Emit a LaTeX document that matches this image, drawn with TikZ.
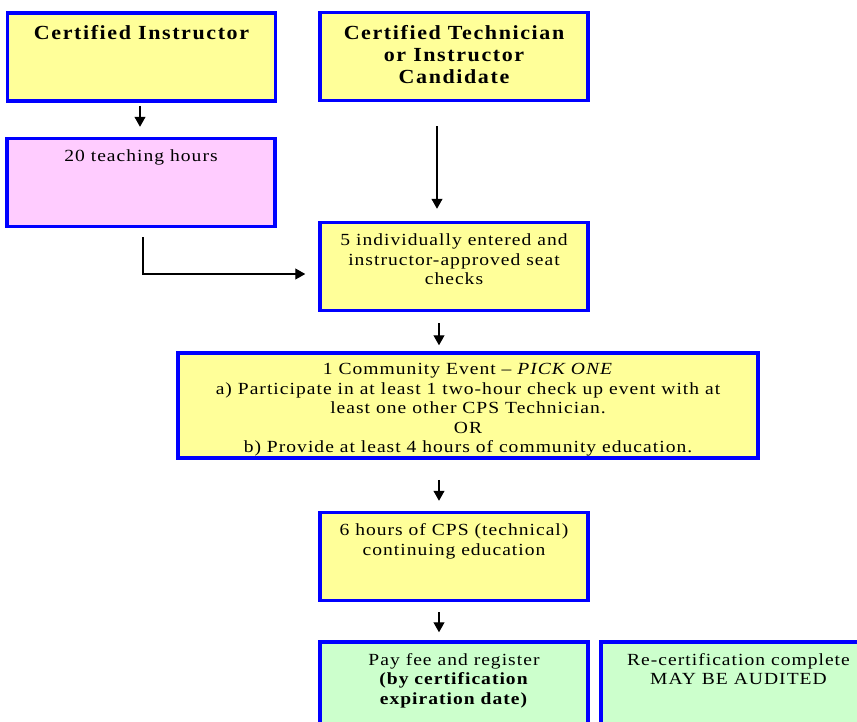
\documentclass[tikz,border=0pt]{standalone}
\usepackage{fontspec}
\setmainfont{Liberation Serif}
\usepackage{tikz}
\usetikzlibrary{positioning,arrows.meta}

\definecolor{cpsblue}{RGB}{0,0,255}
\definecolor{cpsyellow}{RGB}{255,255,153}
\definecolor{cpspink}{RGB}{255,204,255}
\definecolor{cpsgreen}{RGB}{204,255,204}

\tikzset{
  stepbox/.style={draw=cpsblue, line width=3.5pt, minimum width=268pt, minimum height=88pt, inner sep=0pt},
  steptext/.style={align=center, inner sep=0pt, font=\fontsize{17}{19.5}\selectfont\addfontfeatures{FakeStretch=1.15,LetterSpace=6}},
  headtext/.style={align=center, inner sep=0pt, font=\fontsize{20}{22}\selectfont\bfseries\addfontfeatures{FakeStretch=1.1,LetterSpace=8}},
  flow/.style={-{Triangle[length=10pt,width=11pt]}, line width=1.2pt}
}

\begin{document}
\begin{tikzpicture}[x=1pt,y=-1pt]
\useasboundingbox (0,0) rectangle (857,721);

% start boxes
\node[stepbox, fill=cpsyellow] (instr) at (141.5,57) {};
\node[headtext, below=14pt of instr.north] (instrtxt) {Certified Instructor};
\node[stepbox, fill=cpsyellow] (cand) at (454,56.5) {};
\node[headtext, below=14pt of cand.north] (candtxt) {Certified Technician\\or Instructor\\Candidate};

% requirements
\node[stepbox, fill=cpspink] (teach) at (141,182.5) {};
\node[steptext, below=13pt of teach.north] (teachtxt) {20 teaching hours};
\node[stepbox, fill=cpsyellow] (seat) at (454,266.5) {};
\node[steptext, below=13pt of seat.north] (seattxt) {5 individually entered and\\instructor-approved seat\\checks};
\node[stepbox, fill=cpsyellow, minimum width=580pt, minimum height=105pt] (event) at (468,405.5) {};
\node[steptext, below=12pt of event.north] (eventtxt) {1 Community Event -- \textit{PICK ONE}\\a) Participate in at least 1 two-hour check up event with at\\least one other CPS Technician.\\OR\\b) Provide at least 4 hours of community education.};
\node[stepbox, fill=cpsyellow] (cps) at (454,556.5) {};
\node[steptext, below=13pt of cps.north] (cpstxt) {6 hours of CPS (technical)\\continuing education};

% end boxes (cut by the page)
\node[stepbox, fill=cpsgreen, minimum height=100pt] (pay) at (454,692) {};
\node[steptext, below=13pt of pay.north] (paytxt) {Pay fee and register\\\textbf{(by certification}\\\textbf{expiration date)}};
\node[stepbox, fill=cpsgreen, minimum width=275pt, minimum height=100pt] (done) at (738.5,692) {};
\node[steptext, below=13pt of done.north] (donetxt) {Re-certification complete\\MAY BE AUDITED};

% arrows
\draw[flow, shorten <=3pt, shorten >=10pt] ([xshift=-1.5pt]instr.south) -- ([xshift=-1pt]teach.north);
\draw[flow, shorten <=24pt, shorten >=12pt] ([xshift=-17pt]cand.south) -- ([xshift=-17pt]seat.north);
\draw[flow, shorten >=13pt] ([xshift=2pt,yshift=-9pt]teach.south) |- ([yshift=-7.5pt]seat.west);
\draw[flow, shorten <=11pt, shorten >=6pt] ([xshift=-15pt]seat.south) -- ([xshift=-29pt]event.north);
\draw[flow, shorten <=20pt, shorten >=10pt] ([xshift=-29pt]event.south) -- ([xshift=-15pt]cps.north);
\draw[flow, shorten <=10pt, shorten >=8pt] ([xshift=-15pt]cps.south) -- ([xshift=-15pt]pay.north);
\end{tikzpicture}
\end{document}
